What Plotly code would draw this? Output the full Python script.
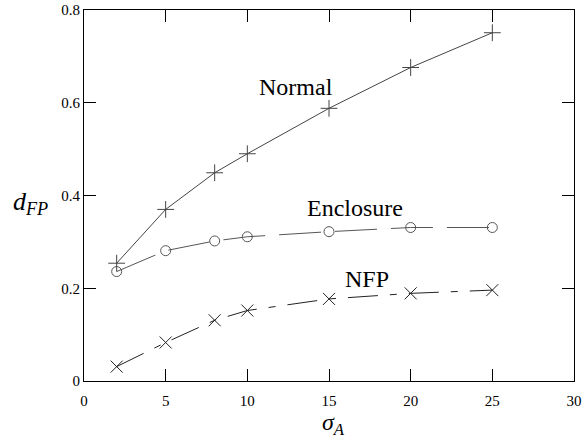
import plotly.graph_objects as go

sigma = [2, 5, 8, 10, 15, 20, 25]
normal = [0.254, 0.370, 0.449, 0.490, 0.588, 0.676, 0.751]
enclosure = [0.236, 0.281, 0.302, 0.311, 0.322, 0.331, 0.331]
nfp = [0.031, 0.083, 0.131, 0.152, 0.177, 0.189, 0.196]

x_ticks = [0, 5, 10, 15, 20, 25, 30]
y_ticks = [0, 0.2, 0.4, 0.6, 0.8]
y_tick_labels = ["0", "0.2", "0.4", "0.6", "0.8"]

FONT = "Liberation Serif, Times New Roman, serif"

fig = go.Figure()
fig.add_trace(go.Scatter(
    x=sigma, y=normal, mode="lines+markers", name="Normal",
    line=dict(color="#444444", width=1),
    marker=dict(symbol="cross-thin-open", size=12, line=dict(color="#444444", width=1)),
))
fig.add_trace(go.Scatter(
    x=sigma, y=enclosure, mode="lines+markers", name="Enclosure",
    line=dict(color="#555555", width=1, dash="42px,14px"),
    marker=dict(symbol="circle-open", size=10, color="#555555", line=dict(color="#555555", width=1)),
))
fig.add_trace(go.Scatter(
    x=sigma, y=nfp, mode="lines+markers", name="NFP",
    line=dict(color="#222222", width=1, dash="30px,12px,7px,12px"),
    marker=dict(symbol="x-thin-open", size=12, line=dict(color="#222222", width=1)),
))

label_font = dict(family=FONT, size=24, color="black")
fig.add_annotation(x=13.0, y=0.633, text="Normal", showarrow=False, font=label_font)
fig.add_annotation(x=16.6, y=0.373, text="Enclosure", showarrow=False, font=label_font)
fig.add_annotation(x=17.3, y=0.22, text="NFP", showarrow=False, font=label_font)

fig.add_annotation(xref="paper", yref="paper", x=(333 - 84) / 490, y=(381 - 424) / 371,
                   xanchor="center", yanchor="middle",
                   text="<i>σ</i><sub><i>A</i></sub>", showarrow=False,
                   font=dict(family=FONT, size=24, color="black"))
fig.add_annotation(xref="paper", yref="paper", x=(30 - 84) / 490, y=(381 - 203) / 371,
                   xanchor="center", yanchor="middle",
                   text="<i>d</i><sub><i>FP</i></sub>", showarrow=False,
                   font=dict(family=FONT, size=26, color="black"))

axis_common = dict(
    showgrid=False, zeroline=False, showline=True, linecolor="black", linewidth=1,
    mirror="ticks", ticks="inside", ticklen=12, tickwidth=1, tickcolor="black",
    tickfont=dict(family=FONT, size=15, color="black"), automargin=False,
)
fig.update_xaxes(range=[0, 30], tickvals=x_ticks, ticktext=[str(v) for v in x_ticks],
                 ticklabelstandoff=6, **axis_common)
fig.update_yaxes(range=[0, 0.8], tickvals=y_ticks, ticktext=y_tick_labels, **axis_common)

fig.update_layout(
    width=588, height=439,
    margin=dict(l=84, r=14, t=10, b=58),
    plot_bgcolor="white", paper_bgcolor="white",
    showlegend=False,
    font=dict(family=FONT),
)

fig.write_html("out.html", config={"displayModeBar": False},
               post_script="document.body.style.margin='0';")
